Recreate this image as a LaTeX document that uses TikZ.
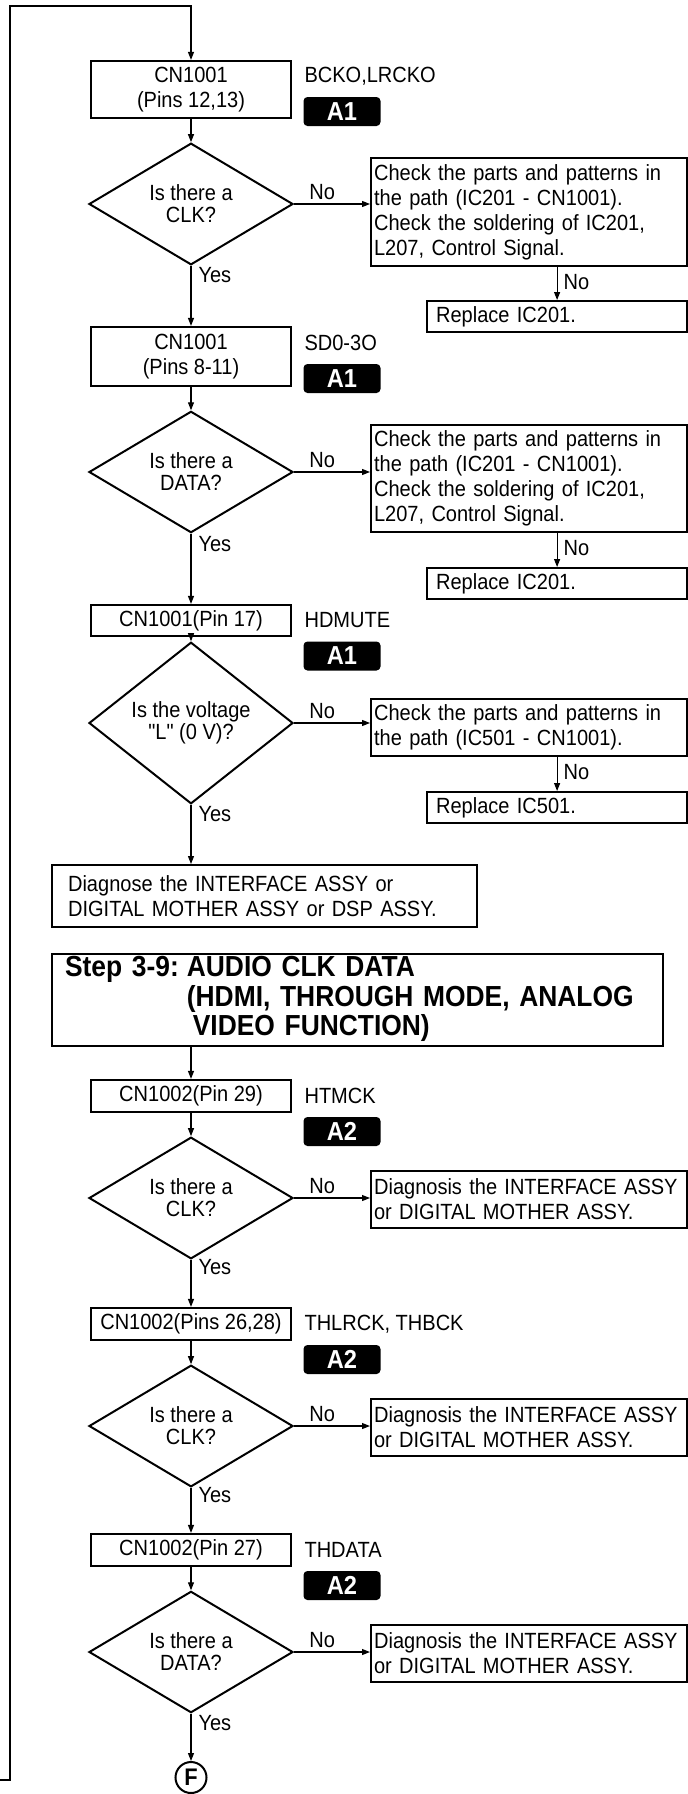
\documentclass[tikz,border=0pt]{standalone}
\usepackage{fontspec}
\setmainfont{Liberation Sans}[FakeStretch=0.91,Ligatures=TeXOff]
\usetikzlibrary{arrows.meta,shapes.geometric}
\newcommand{\txtsize}{\fontsize{22}{25}\selectfont}
\newcommand{\diasize}{\fontsize{22}{22}\selectfont}
\newcommand{\badgesize}{\fontsize{26}{26}\selectfont\bfseries}
\newcommand{\stepsize}{\fontsize{29}{27.5}\selectfont\bfseries}
\begin{document}
\begin{tikzpicture}[x=1pt,y=-1pt,>={Triangle[length=8pt,width=6pt]},font=\txtsize,line width=1.1pt,
box/.style={draw,line width=2.2pt,minimum width=200pt,inner sep=0pt,align=center},
dia/.style={draw,diamond,line width=2pt,minimum width=204pt,minimum height=110pt,inner sep=0pt,align=center,font=\diasize},
chk/.style={draw,line width=2.2pt,anchor=north west,inner xsep=3pt,inner ysep=0pt,text width=310pt,align=left},
rep/.style={draw,line width=2.2pt,anchor=north west,minimum height=31pt,inner xsep=9pt,inner ysep=0pt,text width=242pt,align=left},
sig/.style={anchor=west,inner sep=0pt},
badge/.style={fill=black,rounded corners=4pt,text=white,font=\badgesize,minimum width=77pt,minimum height=29pt,inner sep=0pt},
lbl/.style={inner sep=1pt}]
\useasboundingbox (0,0) rectangle (688,1794);
% CN1001 clock
\node[box,minimum height=57pt] (cn1) at (191,89.5) {CN1001\\(Pins 12,13)};
\node[sig] (s1) at (304,76) {BCKO,LRCKO};
\node[badge] (b1) at (342,111.5) {A1};
\node[dia] (q1) at (191,204) {Is there a\\CLK?};
\node[chk,minimum height=108pt] (c1) at (370,157) {Check the parts and patterns in\\the path (IC201 - CN1001).\\Check the soldering of IC201,\\L207, Control Signal.};
\node[rep] (r1) at (426,300) {Replace IC201.};
% CN1001 data
\node[box,minimum height=59pt] (cn2) at (191,356.5) {CN1001\\(Pins 8-11)};
\node[sig] (s2) at (304,343) {SD0-3O};
\node[badge] (b2) at (342,378.5) {A1};
\node[dia] (q2) at (191,472) {Is there a\\DATA?};
\node[chk,minimum height=107pt] (c2) at (370,424) {Check the parts and patterns in\\the path (IC201 - CN1001).\\Check the soldering of IC201,\\L207, Control Signal.};
\node[rep] (r2) at (426,567) {Replace IC201.};
% CN1001 mute
\node[box,minimum height=31pt] (cn3) at (191,620.5) {CN1001(Pin 17)};
\node[sig] (s3) at (304,620) {HDMUTE};
\node[badge] (b3) at (342,656) {A1};
\node[dia] (q3) at (191,723) {Is the voltage\\"L" (0 V)?};
\node[chk,minimum height=57pt] (c3) at (370,698) {Check the parts and patterns in\\the path (IC501 - CN1001).};
\node[rep] (r3) at (426,791) {Replace IC501.};
\node[draw,line width=2.2pt,anchor=north west,minimum height=62pt,inner xsep=16pt,inner ysep=0pt,text width=393pt,align=left] (dg) at (51,864) {Diagnose the INTERFACE ASSY or\\DIGITAL MOTHER ASSY or DSP ASSY.};
\node[draw,line width=2.2pt,anchor=north west,minimum height=92pt,inner xsep=13pt,inner ysep=0pt,text width=585pt,align=left,font=\stepsize] (st) at (51,953) {\begin{tabular}{@{}l@{}l@{}}Step 3-9:\hspace{8pt} & AUDIO CLK DATA\\ & (HDMI, THROUGH MODE, ANALOG\\ & \hspace{6pt}VIDEO FUNCTION)\end{tabular}};
% CN1002 checks
\foreach \i/\y/\pin/\sg/\what in {4/1096/{Pin 29}/HTMCK/CLK,5/1324/{Pins 26,28}/{THLRCK, THBCK}/CLK,6/1550/{Pin 27}/THDATA/DATA}{
\node[box,minimum height=32pt] (cn\i) at (191,\y) {CN1002(\pin)};
\node[sig] (s\i) at (304,\y) {\sg};
\node[badge] (b\i) at (342,\y+35.5) {A2};
\node[dia] (q\i) at (191,\y+102) {Is there a\\\what?};
\node[chk,minimum height=57pt] (c\i) at (370,\y+73.5) {Diagnosis the INTERFACE ASSY\\or DIGITAL MOTHER ASSY.};
\draw[->] (cn\i.south) -- (q\i.north);
\draw[->] (q\i.east) -- node[lbl,above=3pt,pos=.37]{No} (c\i.west |- q\i.east);
}
\node[draw,circle,line width=2pt,minimum size=31pt,inner sep=0pt,font=\fontsize{24}{24}\selectfont\bfseries] (fin) at (191,1777.5) {F};
\coordinate (loopin) at (0,1780);
\coordinate (looptop) at (10,6);
% connectors
\draw[->] (loopin) -| (looptop) -| (cn1.north);
\foreach \i in {1,2,3}{
\draw[->] (cn\i.south) -- (q\i.north);
\draw[->] (q\i.east) -- node[lbl,above=3pt,pos=.37]{No} (c\i.west |- q\i.east);
\draw[->] (r\i.north |- c\i.south) -- node[lbl,right=5pt,pos=.45]{No} (r\i.north);
}
\draw[->] (q1.south) -- node[lbl,right=6pt,pos=.15]{Yes} (cn2.north);
\draw[->] (q2.south) -- node[lbl,right=6pt,pos=.15]{Yes} (cn3.north);
\draw[->] (q3.south) -- node[lbl,right=6pt,pos=.16]{Yes} (q3.south |- dg.north);
\draw[->] (cn4.north |- st.south) -- (cn4.north);
\draw[->] (q4.south) -- node[lbl,right=6pt,pos=.15]{Yes} (cn5.north);
\draw[->] (q5.south) -- node[lbl,right=6pt,pos=.15]{Yes} (cn6.north);
\draw[->] (q6.south) -- node[lbl,right=6pt,pos=.2]{Yes} (fin.north);
\end{tikzpicture}
\end{document}
